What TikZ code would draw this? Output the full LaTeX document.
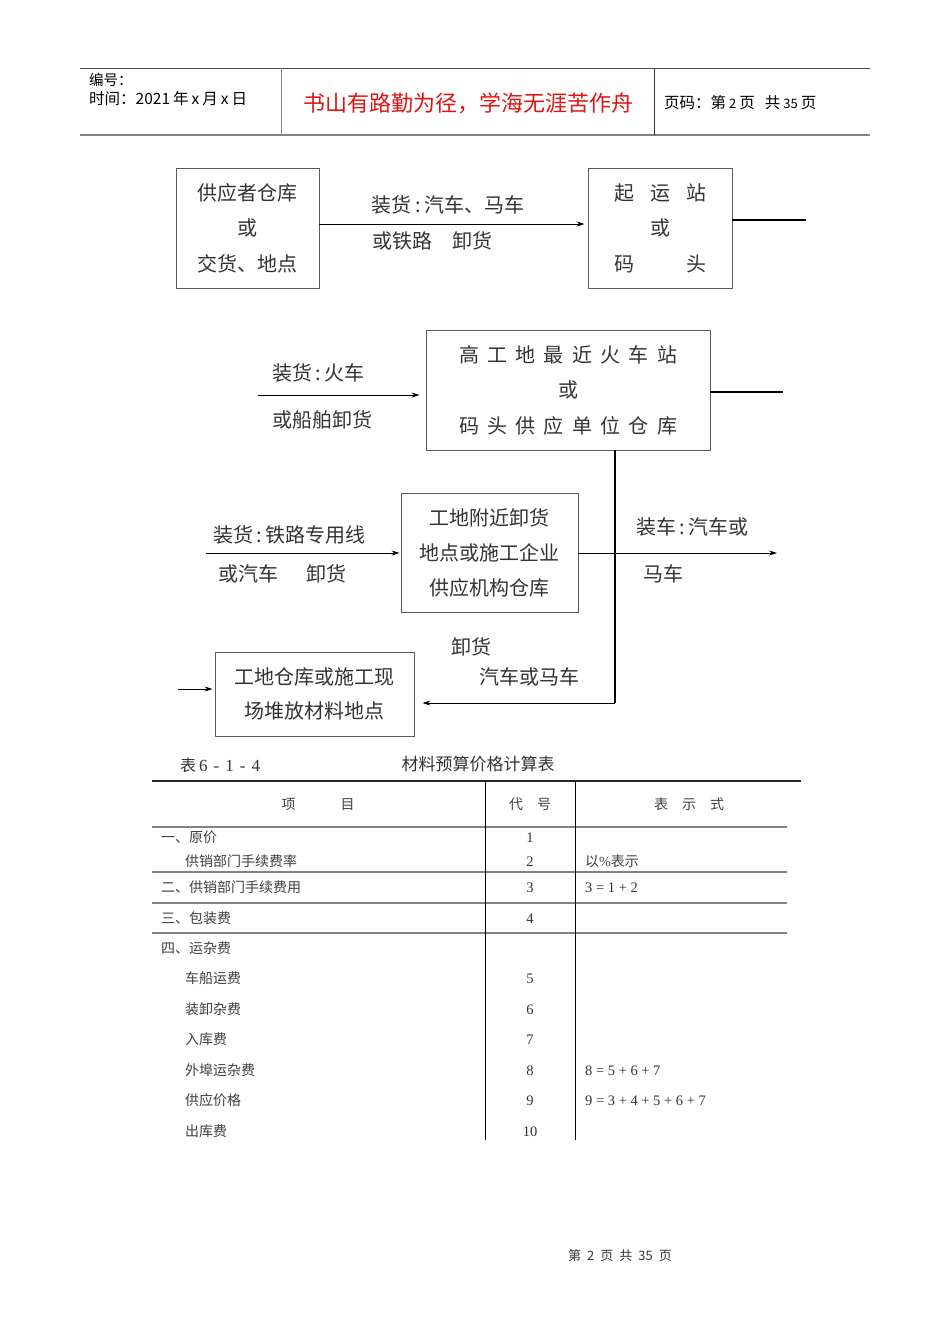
\documentclass[tikz,border=0pt]{standalone}
\usepackage{fontspec}
\setmainfont{Noto Sans CJK SC}
\newfontfamily\numfont{Liberation Serif}
\usetikzlibrary{arrows.meta}
\definecolor{boxgray}{RGB}{90,90,90}
\definecolor{rulegray}{RGB}{130,130,130}
\definecolor{headred}{RGB}{225,20,20}
\tikzset{
  flowbox/.style={draw=boxgray,line width=0.9pt,inner sep=0pt,align=center,text=black!80},
  ftext/.style={font=\fontsize{20}{20}\selectfont,text=black!80,inner sep=0pt},
  arr/.style={line width=0.9pt,-{Stealth[length=8pt,width=5pt]}},
  thick line/.style={line width=2.2pt},
  ttext/.style={font=\fontsize{14}{14}\selectfont,text=black!75,inner sep=0pt},
  tnum/.style={font=\numfont\fontsize{14.5}{14.5}\selectfont,text=black!80,inner sep=0pt},
  trule/.style={draw=rulegray,line width=1.6pt},
  tvert/.style={draw=black,line width=0.9pt}
}
\begin{document}
\begin{tikzpicture}[x=1pt,y=-1pt]
\useasboundingbox[fill=white] (0,0) rectangle (950,1344);
% header
\draw[draw=black!70,line width=0.9pt] (80,68) coordinate (h1) -- (870,68) coordinate (h2);
\draw[draw=rulegray,line width=1.8pt] (80,135) coordinate (h3) -- (870,135) coordinate (h4);
\draw[draw=rulegray,line width=0.9pt] (281,68) coordinate (h5) -- (281,135) coordinate (h6);
\draw[draw=black!80,line width=0.9pt] (654,68) coordinate (h7) -- (654,135) coordinate (h8);
\node[anchor=west,inner sep=0pt,font=\fontsize{14.5}{14.5}\selectfont] (hd1) at (89,80) {编号：};
\node[anchor=west,inner sep=0pt,font=\fontsize{15.5}{15.5}\selectfont] (hd2) at (89,99) {时间：2021\hspace{3pt}年\hspace{3pt}x\hspace{3pt}月\hspace{3pt}x\hspace{3pt}日};
\node[inner sep=0pt,font=\fontsize{22}{22}\selectfont,text=headred] (hd3) at (468,103) {书山有路勤为径，学海无涯苦作舟};
\node[anchor=west,inner sep=0pt,font=\fontsize{15.5}{15.5}\selectfont] (hd4) at (664,103) {页码：第\hspace{3pt}{\fontsize{13}{13}\selectfont 2}\hspace{3pt}页\hspace{10pt}共\hspace{3pt}{\fontsize{13}{13}\selectfont 35}\hspace{3pt}页};

% flow boxes
\node[flowbox,minimum width=143pt,minimum height=120pt,font=\fontsize{20}{35.5}\selectfont] (b1) at (247.5,228) {供应者仓库\\或\\交货、地点};
\node[flowbox,minimum width=144pt,minimum height=120pt,font=\fontsize{20}{35.5}\selectfont] (b2) at (660,228)
  {\makebox[92pt][s]{起\hfill 运\hfill 站}\\或\\\makebox[92pt][s]{码\hfill 头}};
\node[flowbox,minimum width=284pt,minimum height=120pt,font=\fontsize{20}{35.5}\selectfont] (b3) at (568,390)
  {\makebox[218pt][s]{高\hfill 工\hfill 地\hfill 最\hfill 近\hfill 火\hfill 车\hfill 站}\\或\\\makebox[218pt][s]{码\hfill 头\hfill 供\hfill 应\hfill 单\hfill 位\hfill 仓\hfill 库}};
\node[flowbox,minimum width=177pt,minimum height=119pt,font=\fontsize{20}{35}\selectfont] (b4) at (489.5,552.5) {工地附近卸货\\地点或施工企业\\供应机构仓库};
\node[flowbox,minimum width=199pt,minimum height=84pt,font=\fontsize{20}{34}\selectfont] (b5) at (314.5,694) {工地仓库或施工现\\场堆放材料地点};

% connectors row 1
\draw[arr] ([yshift=4pt]b1.east) -- ([yshift=4pt,xshift=-3pt]b2.west);
\node[ftext] (l1) at (448,205) {装货\,:\,汽车、马车};
\node[ftext,anchor=west] (l2) at (372,241) {或铁路\quad 卸货};
\coordinate (e1) at (806,220);
\draw[thick line] (b2.east |- e1) -- (e1);

% row 2
\coordinate (s2) at (258,395);
\draw[arr] (s2) -- ([xshift=-6pt]b3.west |- s2);
\node[ftext,anchor=west] (l3) at (272,373) {装货\,:\,火车};
\node[ftext,anchor=west] (l4) at (272,420) {或船舶卸货};
\coordinate (e2) at (783,392);
\draw[thick line] (b3.east |- e2) -- (e2);

% vertical trunk
\coordinate (v1) at (615,703);
\draw[line width=2pt] (b3.south -| v1) -- (v1);
\draw[arr] (v1) -- ([xshift=8pt]b5.east |- v1);
\node[ftext,anchor=west] (l5) at (451,647) {卸货};
\node[ftext,anchor=west] (l6) at (479,677) {汽车或马车};

% row 3
\coordinate (s3) at (206,553);
\draw[arr] (s3) -- ([xshift=-1pt]b4.west |- s3);
\node[ftext,anchor=west] (l7) at (213,535) {装货\,:\,铁路专用线};
\node[ftext,anchor=west] (l8) at (218,574) {或汽车\quad\, 卸货};
\coordinate (e3) at (777,553);
\draw[arr] (b4.east |- e3) -- (e3);
\node[ftext,anchor=west] (l9) at (636,527) {装车\,:\,汽车或};
\node[ftext,anchor=west] (l10) at (643,574) {马车};

% row 4
\coordinate (s4) at (178,689);
\draw[arr] (s4) -- ([xshift=-2pt]b5.west |- s4);

% table
\node[anchor=west,inner sep=0pt,font=\fontsize{16}{16}\selectfont,text=black!80] (tc1) at (180,765) {表\hspace{3pt}{\numfont\fontsize{17}{17}\selectfont 6\hspace{6pt}-\hspace{6pt}1\hspace{6pt}-\hspace{6pt}4}};
\node[inner sep=0pt,font=\fontsize{17}{17}\selectfont,text=black!80] (tc2) at (478,764) {材料预算价格计算表};
\draw[line width=1.4pt,draw=black!85] (152,781) coordinate (r0a) -- (801,781) coordinate (r0b);
\draw[trule] (152,827) coordinate (r1a) -- (787,827) coordinate (r1b);
\draw[trule] (152,872) coordinate (r2a) -- (787,872) coordinate (r2b);
\draw[trule] (152,903) coordinate (r3a) -- (787,903) coordinate (r3b);
\draw[trule] (152,933) coordinate (r4a) -- (787,933) coordinate (r4b);
\draw[tvert] (485,781) coordinate (c1a) -- (485,1140) coordinate (c1b);
\draw[tvert] (575,781) coordinate (c2a) -- (575,1140) coordinate (c2b);

\node[ttext] (th1) at (318,804) {项\hspace{45pt}目};
\node[ttext] (th2) at (530,804) {代\hspace{14pt}号};
\node[ttext] (th3) at (689,804) {表\hspace{14pt}示\hspace{14pt}式};

\node[ttext,anchor=west] (t1) at (161,837) {一、原价};
\node[ttext,anchor=west] (t2) at (185,861) {供销部门手续费率};
\node[ttext,anchor=west] (t3) at (161,887) {二、供销部门手续费用};
\node[ttext,anchor=west] (t4) at (161,918) {三、包装费};
\node[ttext,anchor=west] (t5) at (161,948) {四、运杂费};
\node[ttext,anchor=west] (t6) at (185,978) {车船运费};
\node[ttext,anchor=west] (t7) at (185,1009) {装卸杂费};
\node[ttext,anchor=west] (t8) at (185,1039) {入库费};
\node[ttext,anchor=west] (t9) at (185,1070) {外埠运杂费};
\node[ttext,anchor=west] (t10) at (185,1100) {供应价格};
\node[ttext,anchor=west] (t11) at (185,1131) {出库费};

\node[tnum] (n1) at (530,838) {1};
\node[tnum] (n2) at (530,862) {2};
\node[tnum] (n3) at (530,888) {3};
\node[tnum] (n4) at (530,919) {4};
\node[tnum] (n5) at (530,979) {5};
\node[tnum] (n6) at (530,1010) {6};
\node[tnum] (n7) at (530,1040) {7};
\node[tnum] (n8) at (530,1071) {8};
\node[tnum] (n9) at (530,1101) {9};
\node[tnum] (n10) at (530,1132) {10};

\node[ttext,anchor=west] (f1) at (585,861) {以{\numfont\%}表示};
\node[tnum,anchor=west] (f2) at (585,888) {3 = 1 + 2};
\node[tnum,anchor=west] (f3) at (585,1071) {8 = 5 + 6 + 7};
\node[tnum,anchor=west] (f4) at (585,1101) {9 = 3 + 4 + 5 + 6 + 7};

% footer
\node[inner sep=0pt,font=\fontsize{13}{13}\selectfont,text=black!80] (ft) at (620,1256) {第\hspace{6pt}2\hspace{6pt}页\hspace{6pt}共\hspace{6pt}35\hspace{6pt}页};
\end{tikzpicture}
\end{document}
